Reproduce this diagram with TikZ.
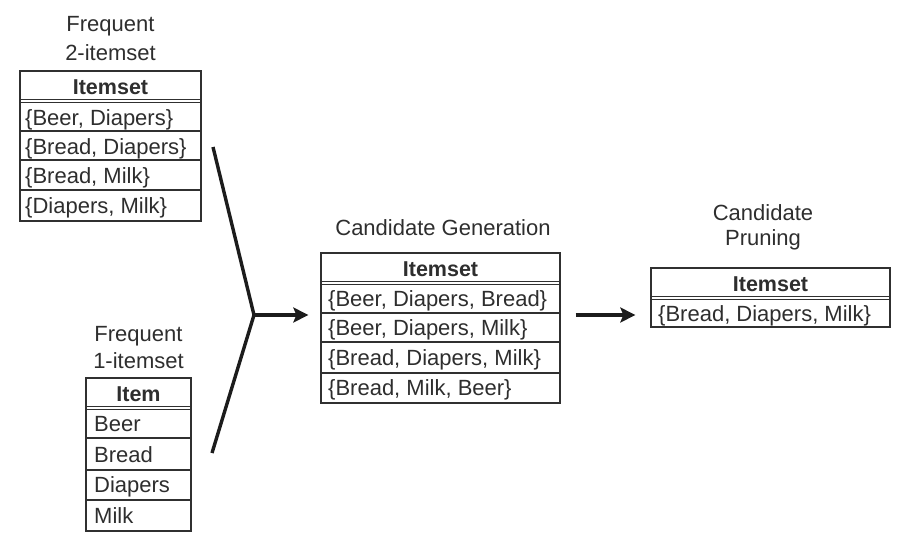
\documentclass[tikz,border=0pt]{standalone}
\usepackage{fontspec}
\setmainfont{Liberation Sans}
\usetikzlibrary{arrows.meta}
\definecolor{ink}{HTML}{2E2E2E}
\definecolor{rulec}{HTML}{303030}
\definecolor{arrc}{HTML}{1C1C1C}
\begin{document}
\begin{tikzpicture}[x=1pt,y=-1pt,
  every node/.style={font=\fontsize{22}{26}\selectfont, text=ink, inner sep=0pt},
  tblbox/.style={draw=rulec, line width=1.3pt, rectangle, fill=white},
  rowline/.style={draw=rulec, line width=1.1pt},
  hdr/.style={anchor=base, font=\fontsize{21.5}{26}\selectfont\bfseries},
  cell/.style={anchor=base west},
  ttl/.style={anchor=base},
  forkline/.style={draw=arrc, line width=3.4pt},
  flow/.style={draw=arrc, line width=4pt, -{Stealth[length=15pt,width=15pt,inset=3pt]}}
]
\useasboundingbox (0,0) rectangle (902,544);

% ---------- Table 1: Frequent 2-itemset ----------
\node[tblbox, minimum width=181pt, minimum height=150pt] (t1) at (110.5,146) {};
\draw[rowline] (20,99.5) -- (201,99.5);
\draw[rowline] (20,102.5) -- (201,102.5);
\draw[rowline] (20,131) -- (201,131);
\draw[rowline] (20,160) -- (201,160);
\draw[rowline] (20,190) -- (201,190);
\node[ttl] (t1a) at (110.5,31) {Frequent};
\node[ttl] (t1b) at (110.5,60) {2-itemset};
\node[hdr] (t1h) at (110.5,94) {Itemset};
\node[cell] (t1r1) at (25,125) {\{Beer, Diapers\}};
\node[cell] (t1r2) at (25,154) {\{Bread, Diapers\}};
\node[cell] (t1r3) at (25,183) {\{Bread, Milk\}};
\node[cell] (t1r4) at (25,213) {\{Diapers, Milk\}};

% ---------- Table 2: Frequent 1-itemset ----------
\node[tblbox, minimum width=105pt, minimum height=153pt] (t2) at (138.5,454.5) {};
\draw[rowline] (86,406.5) -- (191,406.5);
\draw[rowline] (86,409.5) -- (191,409.5);
\draw[rowline] (86,438) -- (191,438);
\draw[rowline] (86,470) -- (191,470);
\draw[rowline] (86,500) -- (191,500);
\node[ttl] (t2a) at (138.5,341) {Frequent};
\node[ttl] (t2b) at (138.5,368) {1-itemset};
\node[hdr] (t2h) at (138.5,401) {Item};
\node[cell] (t2r1) at (94,431) {Beer};
\node[cell] (t2r2) at (94,462) {Bread};
\node[cell] (t2r3) at (94,492) {Diapers};
\node[cell] (t2r4) at (94,523) {Milk};

% ---------- Table 3: Candidate Generation ----------
\node[tblbox, minimum width=239pt, minimum height=150pt] (t3) at (440.5,328) {};
\draw[rowline] (321,281.5) -- (560,281.5);
\draw[rowline] (321,284.5) -- (560,284.5);
\draw[rowline] (321,313) -- (560,313);
\draw[rowline] (321,342) -- (560,342);
\draw[rowline] (321,373) -- (560,373);
\node[ttl] (t3a) at (443,235) {Candidate Generation};
\node[hdr] (t3h) at (440.5,276) {Itemset};
\node[cell] (t3r1) at (328,306) {\{Beer, Diapers, Bread\}};
\node[cell] (t3r2) at (328,335) {\{Beer, Diapers, Milk\}};
\node[cell] (t3r3) at (328,365) {\{Bread, Diapers, Milk\}};
\node[cell] (t3r4) at (328,395) {\{Bread, Milk, Beer\}};

% ---------- Table 4: Candidate Pruning ----------
\node[tblbox, minimum width=239pt, minimum height=59pt] (t4) at (770.5,297.5) {};
\draw[rowline] (651,296.5) -- (890,296.5);
\draw[rowline] (651,299.5) -- (890,299.5);
\node[ttl] (t4a) at (763,220) {Candidate};
\node[ttl] (t4b) at (763,245) {Pruning};
\node[hdr] (t4h) at (770.5,291) {Itemset};
\node[cell] (t4r1) at (658,321) {\{Bread, Diapers, Milk\}};

% ---------- Connectors ----------
\coordinate (f1) at (213,147);
\coordinate (f2) at (212,453);
\coordinate (v) at (254,315);
\draw[forkline, line join=miter] (f1) -- (v) -- (f2);
\draw[flow] (v) -- ([xshift=-12pt]t3.west |- v);
\draw[flow] ([xshift=15pt]t3.east |- v) -- ([xshift=-15pt]t4.west |- v);
\end{tikzpicture}
\end{document}
